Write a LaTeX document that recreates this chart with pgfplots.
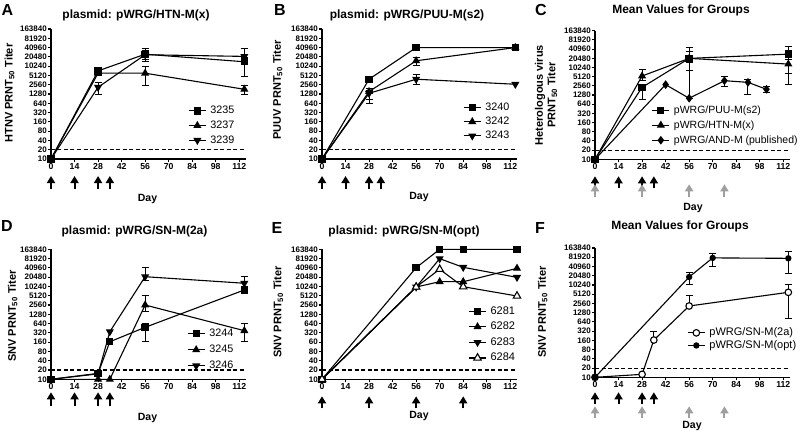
\documentclass[border=0pt]{standalone}
\usepackage{fontspec}
\setmainfont{Liberation Sans}
\usepackage{pgfplots}
\pgfplotsset{compat=1.18}
\usetikzlibrary{arrows.meta}

\newcommand{\upa}[4]{\draw[-{Triangle[width=8pt,length=7pt]}, line width=2pt, #4] ([yshift=-#3pt]axis cs:#1,10) -- ([yshift=-#2pt]axis cs:#1,10);}

\pgfplotsset{
  scale only axis, width=195pt, height=130pt,
  xmin=0, xmax=116, ymin=10, ymax=163840,
  log basis y=2,
  axis lines*=left, axis line style={line width=1.5pt},
  clip=false,
  xtick={0,14,28,42,56,70,84,98,112},
  xticklabels={0,14,28,42,56,70,84,98,112},
  ytick={10,20,40,80,160,320,640,1280,2560,5120,10240,20480,40960,81920,163840},
  yticklabels={10,20,40,80,160,320,640,1280,2560,5120,10240,20480,40960,81920,163840},
  yminorticks=false, xminorticks=false,
  tick align=outside, major tick length=3pt,
  major tick style={line width=1.1pt, black},
  xticklabel style={font=\fontsize{8.7}{9}\selectfont\bfseries, inner sep=1pt},
  yticklabel style={font=\fontsize{8}{8}\selectfont\bfseries, inner sep=1pt},
  legend style={draw=none, fill=none, font=\fontsize{10.8}{12}\selectfont,
    anchor=north west, inner sep=0pt, row sep=4.7pt,
    nodes={inner xsep=4pt, inner ysep=0pt, text height=8pt, text depth=2pt}},
  legend cell align=left,
  every axis plot/.append style={black, line width=1.1pt},
  eb/.style={error bars/y dir=both, error bars/y explicit,
    error bars/error bar style={line width=1pt, black},
    error bars/error mark options={rotate=90, mark size=3.5pt, line width=1pt, black}},
  sq/.style={mark=square*, mark size=3.1pt, mark options={solid}},
  tri/.style={mark=triangle*, mark size=3.6pt, mark options={solid}},
  itri/.style={mark=triangle*, mark size=3.6pt, mark options={solid, rotate=180}},
  dia/.style={mark=diamond*, mark size=3.5pt, mark options={solid}},
  otri/.style={mark=triangle*, mark size=4.3pt, mark options={solid, fill=white}},
  ocirc/.style={mark=*, mark size=3.3pt, mark options={solid, fill=white}},
  fcirc/.style={mark=*, mark size=2.6pt, mark options={solid}},
  cut/.style={dash pattern=on 4pt off 2.5pt, line width=1.1pt},
}

\begin{document}
\begin{tikzpicture}
\useasboundingbox (0,0) rectangle (800pt,-432pt);

% ---------- A
\begin{axis}[ymode=log, anchor=south west, at={(51pt,-159pt)},
  legend style={at={(0.703,0.41)}}]
\addplot[sq, eb] coordinates {(0,10) (28,7200) += (0,2100) -= (0,1500) (56,25000) += (0,12700) -= (0,8000) (115,14200) += (0,6000) -= (0,9500)};
\addplot[tri, eb] coordinates {(0,10) (28,6050) += (0,1000) -= (0,1000) (56,6050) += (0,4000) -= (0,3700) (115,1820) += (0,680) -= (0,570)};
\addplot[itri, eb] coordinates {(0,10) (28,2120) += (0,900) -= (0,870) (56,24000) += (0,10000) -= (0,10000) (115,21200) += (0,16500) -= (0,8000)};
\addplot[cut, forget plot] coordinates {(0,20) (116,20)};
\legend{3235,3237,3239}
\upa{0}{17}{30}{black}\upa{14}{17}{30}{black}\upa{28}{17}{30}{black}\upa{35}{17}{30}{black}
\end{axis}

% ---------- B
\begin{axis}[ymode=log, anchor=south west, at={(322pt,-159pt)},
  legend style={at={(0.723,0.436)}, row sep=4.2pt}]
\addplot[sq, eb] coordinates {(0,10) (28,3860) += (0,850) -= (0,800) (56,40960) (115,40960)};
\addplot[tri, eb] coordinates {(0,10) (28,1530) += (0,400) -= (0,890) (56,15300) += (0,4700) -= (0,4600) (115,40960)};
\addplot[itri, eb] coordinates {(0,10) (28,1350) += (0,300) -= (0,500) (56,3860) += (0,1440) -= (0,1340) (115,2650)};
\addplot[cut, forget plot] coordinates {(0,20) (116,20)};
\legend{3240,3242,3243}
\upa{0}{17}{30}{black}\upa{14}{17}{30}{black}\upa{28}{17}{30}{black}\upa{35}{17}{30}{black}
\end{axis}

% ---------- C
\begin{axis}[ymode=log, anchor=south west, at={(595pt,-159.3pt)}, height=128.6pt,
  legend style={at={(0.29,0.422)}, font=\fontsize{10.5}{12}\selectfont, row sep=5pt}]
\addplot[sq, eb] coordinates {(0,10) (28,2280) += (0,600) -= (0,1355) (56,20300) += (0,27000) -= (0,19300) (115,28000) += (0,23000) -= (0,21400)};
\addplot[tri, eb] coordinates {(0,10) (28,5370) += (0,3500) -= (0,1500) (56,20300) += (0,15100) -= (0,5000) (115,13200) += (0,5000) -= (0,10300)};
\addplot[dia, eb] coordinates {(0,10) (42,2800) (56,1000) += (0,7000) -= (0,0) (77,3770) += (0,1430) -= (0,1280) (91,3330) += (0,940) -= (0,1960) (102,1970) += (0,520) -= (0,410)};
\addplot[cut, forget plot] coordinates {(0,20) (116,20)};
\legend{pWRG/PUU-M(s2),pWRG/HTN-M(x),pWRG/AND-M (published)}
\upa{0}{17}{29}{black}\upa{14}{17}{29}{black}\upa{28}{17}{29}{black}\upa{35}{17}{29}{black}
\upa{0}{25}{38}{gray!75}\upa{28}{25}{38}{gray!75}\upa{56}{25}{38}{gray!75}\upa{77}{25}{38}{gray!75}
\end{axis}

% ---------- D
\begin{axis}[ymode=log, anchor=south west, at={(51pt,-379.3pt)},
  legend style={at={(0.697,0.39)}, row sep=6pt}]
\addplot[sq, eb] coordinates {(0,10) (28,15.6) (35,165) (56,485) += (0,137) -= (0,311) (115,7870) += (0,1000) -= (0,1730)};
\addplot[tri, eb] coordinates {(0,10) (28,10) (35,10) (56,2560) += (0,2560) -= (0,1000) (115,377) += (0,277) -= (0,203)};
\addplot[itri, eb] coordinates {(0,10) (28,15) (35,350) (56,21200) += (0,21500) -= (0,5000) (115,13000) += (0,8200) -= (0,3000)};
\addplot[cut, forget plot] coordinates {(0,20) (116,20)};
\legend{3244,3245,3246}
\upa{0}{13}{27}{black}\upa{14}{13}{27}{black}\upa{28}{13}{27}{black}\upa{35}{13}{27}{black}
\end{axis}

% ---------- E
\begin{axis}[ymode=log, anchor=south west, at={(322pt,-379.3pt)},
  yticklabels={10,20,40,80,60,320,640,1280,2560,5120,10240,20480,40960,81920,163840},
  legend style={at={(0.75,0.564)}, font=\fontsize{11}{12}\selectfont, row sep=5.6pt}]
\addplot[sq] coordinates {(0,10) (56,41500) (70,163840) (84,163840) (116,163840)};
\addplot[tri] coordinates {(0,10) (56,9820) (70,14600) (84,14600) (116,39600)};
\addplot[itri] coordinates {(0,10) (56,9820) (70,81400) (84,42700) (116,20200)};
\addplot[otri] coordinates {(0,10) (56,9820) (70,36900) (84,10030) (116,5020)};
\addplot[cut, forget plot] coordinates {(0,20) (116,20)};
\legend{6281,6282,6283,6284}
\upa{0}{17}{29}{black}\upa{28}{17}{29}{black}\upa{56}{17}{29}{black}\upa{84}{17}{29}{black}
\end{axis}

% ---------- F
\begin{axis}[ymode=log, anchor=south west, at={(595pt,-377.3pt)}, height=129.3pt,
  legend style={at={(0.472,0.384)}, font=\fontsize{11}{12}\selectfont, row sep=2.6pt}]
\addplot[ocirc, eb] coordinates {(0,10) (28,12.5) (35,164) += (0,158) -= (0,0) (56,2110) += (0,2700) -= (0,0) (115,5890) += (0,5080) -= (0,5050)};
\addplot[fcirc, eb] coordinates {(0,10) (56,18600) += (0,7100) -= (0,7630) (70,78000) += (0,27000) -= (0,37800) (115,75500) += (0,48500) -= (0,51000)};
\addplot[cut, forget plot] coordinates {(0,20) (116,20)};
\legend{pWRG/SN-M(2a),pWRG/SN-M(opt)}
\upa{0}{15}{27}{black}\upa{14}{15}{27}{black}\upa{28}{15}{27}{black}\upa{35}{15}{27}{black}
\upa{0}{29}{41}{gray!75}\upa{28}{29}{41}{gray!75}\upa{56}{29}{41}{gray!75}\upa{77}{29}{41}{gray!75}
\end{axis}

% ---------- titles, letters, labels
\begin{scope}[every node/.style={font=\fontsize{16}{16}\selectfont\bfseries}]
\node at (7.5pt,-10pt) {A};
\node at (280pt,-10pt) {B};
\node at (541pt,-10pt) {C};
\node at (7pt,-226pt) {D};
\node at (277pt,-228pt) {E};
\node at (540pt,-228pt) {F};
\end{scope}
\begin{scope}[every node/.style={font=\fontsize{12}{12}\selectfont\bfseries}]
\node at (136pt,-15pt) {plasmid: pWRG/HTN-M(x)};
\node at (407pt,-15pt) {plasmid: pWRG/PUU-M(s2)};
\node at (681pt,-10pt) {Mean Values for Groups};
\node at (134.5pt,-231pt) {plasmid: pWRG/SN-M(2a)};
\node at (404pt,-231pt) {plasmid: pWRG/SN-M(opt)};
\node at (680pt,-226pt) {Mean Values for Groups};
\end{scope}
\begin{scope}[every node/.style={font=\fontsize{10.5}{12}\selectfont\bfseries}]
\node at (147.5pt,-199pt) {Day};
\node at (419pt,-197pt) {Day};
\node at (693pt,-208pt) {Day};
\node at (147.5pt,-417.7pt) {Day};
\node at (419pt,-416pt) {Day};
\node at (692pt,-426pt) {Day};
\end{scope}
\begin{scope}[every node/.style={font=\fontsize{11}{12.5}\selectfont\bfseries}]
\node[rotate=90] at (9.5pt,-93pt) {HTNV PRNT\textsubscript{50} Titer};
\node[rotate=90] at (277.7pt,-90pt) {PUUV PRNT\textsubscript{50} Titer};
\node[rotate=90, align=center] at (546pt,-95pt) {Heterologous virus\\PRNT\textsubscript{50} Titer};
\node[rotate=90] at (12.7pt,-316pt) {SNV PRNT\textsubscript{50} Titer};
\node[rotate=90] at (278.3pt,-312pt) {SNV PRNT\textsubscript{50} Titer};
\node[rotate=90] at (542.7pt,-312pt) {SNV PRNT\textsubscript{50} Titer};
\end{scope}
\end{tikzpicture}
\end{document}
